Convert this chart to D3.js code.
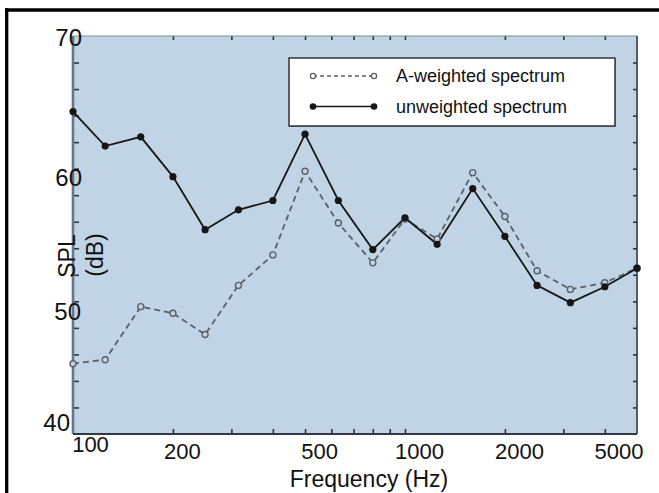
<!DOCTYPE html>
<html><head><meta charset="utf-8">
<script src="https://cdn.jsdelivr.net/npm/d3@7/dist/d3.min.js"></script>
<style>
body{margin:0;background:#fff}
svg{display:block}
text{font-family:Arial,"Liberation Sans",sans-serif;fill:#111}
</style>
</head><body>
<svg id="c" width="659" height="493"></svg>
<script>
// ---- data ----
const freqs = [100,125,160,200,250,315,400,500,630,800,1000,1250,1600,2000,2500,3150,4000,5000];
const unweighted = [64.3,61.7,62.4,59.4,55.4,56.9,57.6,62.6,57.6,53.9,56.3,54.3,58.5,54.9,51.2,49.9,51.1,52.5];
const aWeighted  = [45.3,45.6,49.6,49.1,47.5,51.2,53.5,59.8,55.9,52.9,56.2,54.7,59.7,56.4,52.3,50.9,51.4,52.5];
const seriesNames = ["A-weighted spectrum","unweighted spectrum"];
const xTickLabels = [100,200,500,1000,2000,5000];
const xMinorTicks = [200,300,400,500,600,700,800,900,1000,2000,3000,4000];
const yTickLabels = [40,50,60,70];
const yMinorTicks = [42,44,46,48,50,52,54,56,58,60,62,64,66,68];
const xTitle = "Frequency (Hz)";
const yTitle = ["SPL","(dB)"];

// ---- layout ----
const L = 73, R = 637, T = 36, B = 434;
const svg = d3.select("#c");
const x = d3.scaleLog().domain([100,5000]).range([L,R]);
const y = d3.scaleLinear().domain([40,70]).range([B,T]);

// outer frame (top + left)
svg.append("line").attr("x1",5).attr("x2",659).attr("y1",10).attr("y2",10).attr("stroke","#000").attr("stroke-width",3.3);
svg.append("line").attr("x1",6.7).attr("x2",6.7).attr("y1",8.3).attr("y2",493).attr("stroke","#000").attr("stroke-width",3.3);

// plot background
svg.append("rect").attr("x",L).attr("y",T).attr("width",R-L).attr("height",B-T).attr("fill","#c0d4e5");

// tick marks (inward)
const tickCol = "#2a3440";
function styleTicks(g){ g.select(".domain").remove(); g.selectAll("line").attr("stroke",tickCol).attr("stroke-width",1.6); }
svg.append("g").attr("transform",`translate(0,${B})`).call(d3.axisBottom(x).tickValues(xMinorTicks).tickSize(-5).tickFormat("")).call(styleTicks);
svg.append("g").attr("transform",`translate(0,${T})`).call(d3.axisTop(x).tickValues(xMinorTicks).tickSize(-4).tickFormat("")).call(styleTicks);
svg.append("g").attr("transform",`translate(${L},0)`).call(d3.axisLeft(y).tickValues(yMinorTicks).tickSize(-6).tickFormat("")).call(styleTicks);
svg.append("g").attr("transform",`translate(${R},0)`).call(d3.axisRight(y).tickValues(yMinorTicks).tickSize(-4).tickFormat("")).call(styleTicks);

// plot borders
svg.append("line").attr("x1",L).attr("x2",R).attr("y1",T).attr("y2",T).attr("stroke","#7d8fa0").attr("stroke-width",1.2);
svg.append("line").attr("x1",L).attr("x2",L).attr("y1",T).attr("y2",B).attr("stroke","#66768a").attr("stroke-width",2.6);
svg.append("line").attr("x1",L).attr("x2",R).attr("y1",B).attr("y2",B).attr("stroke","#2f3a45").attr("stroke-width",2);
svg.append("line").attr("x1",R).attr("x2",R).attr("y1",T).attr("y2",B).attr("stroke","#2f3a45").attr("stroke-width",1.6);

// x tick labels
const xl = svg.append("g").attr("transform",`translate(0,${B})`)
  .call(d3.axisBottom(x).tickValues(xTickLabels).tickSize(0).tickFormat(d3.format("d")));
xl.select(".domain").remove();
xl.selectAll("text").attr("font-size",22).attr("fill","#111").style("font-family","Arial, 'Liberation Sans', sans-serif")
  .attr("dy",null).attr("y",25)
  .attr("text-anchor",(d,i)=> i===xTickLabels.length-1 ? "end" : "middle")
  .attr("dx",(d,i)=> i===0 ? 17 : (i===xTickLabels.length-1 ? 6 : (i===1 ? 9 : 14)))
  .attr("y",(d,i)=> i===0 ? 18 : 25);

// y tick labels
const yl = svg.append("g").attr("transform",`translate(${L},0)`)
  .call(d3.axisLeft(y).tickValues(yTickLabels).tickSize(0).tickPadding(-9));
yl.select(".domain").remove();
const yNudge = {70:[0,1],60:[0,8],50:[-1,10],40:[-12,-12]};
yl.selectAll("text").attr("font-size",24).attr("fill","#111").style("font-family","Arial, 'Liberation Sans', sans-serif")
  .attr("dx",d=>yNudge[d][0]).attr("dy",d=>(yNudge[d][1]+8.5)+"px");

// axis titles
svg.append("text").attr("x",369).attr("y",487).attr("text-anchor","middle").attr("font-size",23).text(xTitle);
svg.append("text").attr("transform","translate(75,256) rotate(-90)").attr("text-anchor","middle").attr("font-size",23).text(yTitle[0]);
svg.append("text").attr("transform","translate(103,255) rotate(-90)").attr("text-anchor","middle").attr("font-size",23).text(yTitle[1]);

// series
const aCol = "#56616c", uCol = "#161616";
const line = d3.line().x(d=>x(d[0])).y(d=>y(d[1]));
const aPts = freqs.map((f,i)=>[f,aWeighted[i]]);
const uPts = freqs.map((f,i)=>[f,unweighted[i]]);
svg.append("path").datum(aPts).attr("d",line).attr("fill","none").attr("stroke",aCol).attr("stroke-width",1.8).attr("stroke-dasharray","6,4");
svg.append("path").datum(uPts).attr("d",line).attr("fill","none").attr("stroke",uCol).attr("stroke-width",1.8);
svg.append("g").selectAll("circle").data(aPts).join("circle")
  .attr("cx",d=>x(d[0])).attr("cy",d=>y(d[1])).attr("r",3).attr("fill","#c0d4e5").attr("stroke",aCol).attr("stroke-width",1.4);
svg.append("g").selectAll("circle").data(uPts).join("circle")
  .attr("cx",d=>x(d[0])).attr("cy",d=>y(d[1])).attr("r",3.6).attr("fill",uCol);

// legend
const lg = svg.append("g");
lg.append("rect").attr("x",290).attr("y",59).attr("width",326).attr("height",68).attr("fill","#8a96a2");
lg.append("rect").attr("x",289).attr("y",58).attr("width",326).attr("height",68).attr("fill","#fff").attr("stroke","#333").attr("stroke-width",1.5);
const entries = [
  {name:seriesNames[0], y:76, col:aCol, dash:"4,3", open:true},
  {name:seriesNames[1], y:106.5, col:uCol, dash:null, open:false}
];
entries.forEach(e=>{
  lg.append("line").attr("x1",313).attr("x2",374).attr("y1",e.y).attr("y2",e.y).attr("stroke",e.col).attr("stroke-width",1.6).attr("stroke-dasharray",e.dash);
  [313,374].forEach(cx=>{
    lg.append("circle").attr("cx",cx).attr("cy",e.y).attr("r",e.open?2.6:3.3)
      .attr("fill",e.open?"#fff":e.col).attr("stroke",e.col).attr("stroke-width",e.open?1.3:0);
  });
  lg.append("text").attr("x",396).attr("y",e.y+6).attr("font-size",18).text(e.name);
});
</script>
</body></html>
